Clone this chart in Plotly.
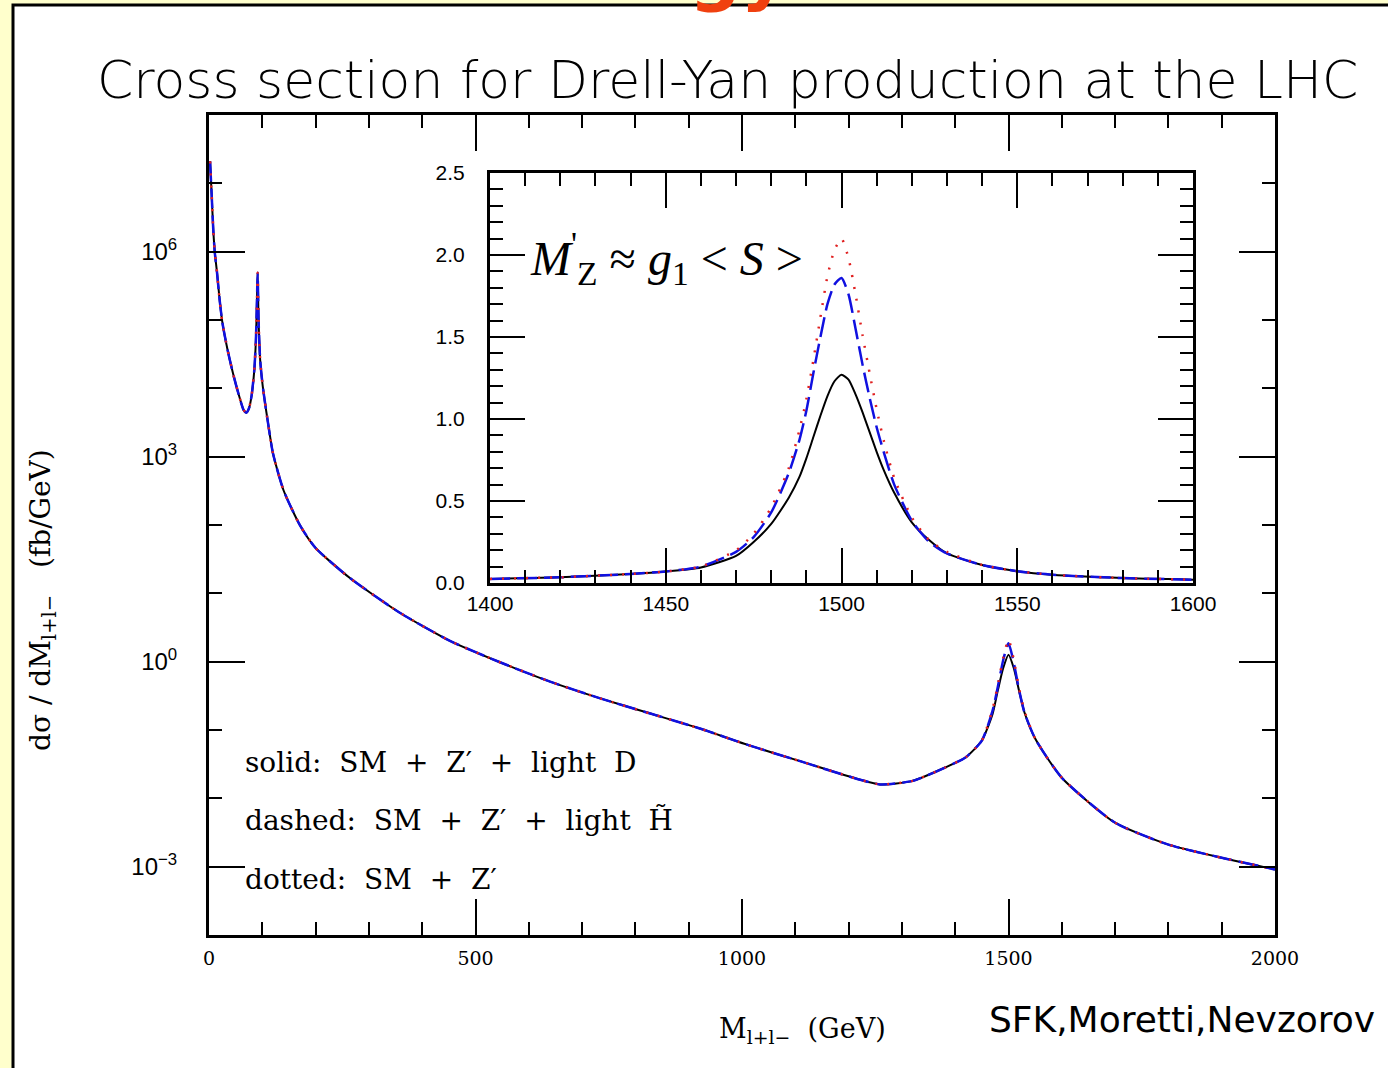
import plotly.graph_objects as go

# ---------------- data ----------------
main_mass = [2, 5, 8, 11, 15, 20, 25, 35, 45, 55, 65, 70, 75, 80, 85, 88, 90, 91.2, 93, 96,
             101, 110, 120, 140, 171, 200, 265, 358, 453, 546, 640, 734, 828, 921, 1015,
             1109, 1200, 1259, 1320, 1380, 1420, 1450, 1470, 1480, 1490, 1500, 1510, 1520,
             1530, 1550, 1600, 1700, 1800, 1900, 2000]
main_solid = [2.1e7, 6.8e6, 2.1e6, 9.5e5, 5.0e5, 1.95e5, 9.3e4, 3.6e4, 1.66e4, 8.5e3, 4.8e3,
              4.4e3, 5.1e3, 7.9e3, 1.86e4, 5.1e4, 1.95e5, 4.9e5, 1.0e5, 2.6e4,
              1.05e4, 3.4e3, 1.12e3, 3.2e2, 98, 46, 16.6, 5.2, 2.0, 0.98, 0.51, 0.29, 0.174,
              0.105, 0.059, 0.035, 0.021, 0.016, 0.018, 0.028, 0.040, 0.070, 0.17, 0.38,
              0.80, 1.26, 0.80, 0.37, 0.18, 0.075, 0.020, 4.4e-3, 2.1e-3, 1.35e-3, 9.1e-4]
main_dashed = [2.1e7, 6.8e6, 2.1e6, 9.5e5, 5.0e5, 1.95e5, 9.3e4, 3.6e4, 1.66e4, 8.5e3, 4.8e3,
               4.4e3, 5.1e3, 7.9e3, 1.86e4, 5.1e4, 1.95e5, 4.9e5, 1.0e5, 2.6e4,
               1.05e4, 3.4e3, 1.12e3, 3.2e2, 98, 46, 16.6, 5.2, 2.0, 0.98, 0.51, 0.29, 0.174,
               0.105, 0.059, 0.035, 0.021, 0.016, 0.018, 0.028, 0.040, 0.070, 0.19, 0.43,
               1.05, 1.86, 0.95, 0.38, 0.18, 0.075, 0.020, 4.4e-3, 2.1e-3, 1.35e-3, 9.1e-4]
main_dotted = [2.1e7, 6.8e6, 2.1e6, 9.5e5, 5.0e5, 1.95e5, 9.3e4, 3.6e4, 1.66e4, 8.5e3, 4.8e3,
               4.4e3, 5.1e3, 7.9e3, 1.86e4, 5.1e4, 1.95e5, 4.9e5, 1.0e5, 2.6e4,
               1.05e4, 3.4e3, 1.12e3, 3.2e2, 98, 46, 16.6, 5.2, 2.0, 0.98, 0.51, 0.29, 0.174,
               0.105, 0.059, 0.035, 0.021, 0.016, 0.018, 0.028, 0.040, 0.070, 0.20, 0.46,
               1.12, 2.10, 1.06, 0.40, 0.19, 0.075, 0.020, 4.4e-3, 2.1e-3, 1.35e-3, 9.1e-4]

inset_mass = [1400, 1420, 1440, 1450, 1460, 1470, 1475, 1480, 1485, 1488, 1490, 1492, 1494,
              1496, 1498, 1500, 1502, 1504, 1506, 1508, 1510, 1512, 1515, 1520, 1525, 1530,
              1540, 1550, 1560, 1580, 1600]
inset_solid = [0.025, 0.035, 0.055, 0.07, 0.095, 0.165, 0.25, 0.36, 0.52, 0.645, 0.76, 0.89,
               1.02, 1.14, 1.23, 1.27, 1.24, 1.15, 1.04, 0.92, 0.80, 0.69, 0.55, 0.37, 0.26,
               0.18, 0.11, 0.072, 0.05, 0.03, 0.02]
inset_dashed = [0.025, 0.035, 0.055, 0.07, 0.10, 0.19, 0.28, 0.43, 0.67, 0.87, 1.05, 1.28,
                1.50, 1.70, 1.82, 1.86, 1.76, 1.55, 1.33, 1.13, 0.95, 0.80, 0.60, 0.38, 0.25,
                0.18, 0.11, 0.072, 0.05, 0.03, 0.02]
inset_dotted = [0.025, 0.035, 0.055, 0.07, 0.10, 0.20, 0.30, 0.46, 0.70, 0.93, 1.12, 1.36,
                1.62, 1.87, 2.03, 2.10, 1.98, 1.76, 1.51, 1.28, 1.06, 0.87, 0.64, 0.40, 0.26,
                0.19, 0.11, 0.072, 0.05, 0.03, 0.02]

main_x_ticks = [0, 500, 1000, 1500, 2000]
main_x_minor = [v for v in range(100, 2000, 100) if v % 500 != 0]
main_y_ticks = [1e-3, 1, 1e3, 1e6]
main_y_ticktext = ["10<sup>\u22123</sup>", "10<sup>0</sup>", "10<sup>3</sup>", "10<sup>6</sup>"]
main_y_minor = [1e-4, 1e-2, 1e-1, 1e1, 1e2, 1e4, 1e5, 1e7, 1e8]
inset_x_ticks = [1400, 1450, 1500, 1550, 1600]
inset_y_ticks = [0.0, 0.5, 1.0, 1.5, 2.0, 2.5]
inset_y_ticktext = ["0.0", "0.5", "1.0", "1.5", "2.0", "2.5"]

# ---------------- layout geometry (pixels) ----------------
W, H = 1388, 1068
L, R, T, B = 209, 1275, 115, 935
PW, PH = R - L, B - T


def px(x):
    return (x - L) / PW


def py(y):
    return (B - y) / PH


fig = go.Figure()

for x, y, xa, ya in [(main_mass, (main_solid, main_dashed, main_dotted), "x", "y"),
                     (inset_mass, (inset_solid, inset_dashed, inset_dotted), "x2", "y2")]:
    fig.add_trace(go.Scatter(x=x, y=y[0], mode="lines", xaxis=xa, yaxis=ya,
                             line=dict(color="black", width=2, shape="spline", smoothing=0.6),
                             showlegend=False))
    fig.add_trace(go.Scatter(x=x, y=y[1], mode="lines", xaxis=xa, yaxis=ya,
                             line=dict(color="#1010E0", width=2.5, dash="20px,7px",
                                       shape="spline", smoothing=0.6),
                             showlegend=False))
    fig.add_trace(go.Scatter(x=x, y=y[2], mode="lines", xaxis=xa, yaxis=ya,
                             line=dict(color="#E02020", width=2.5, dash="2px,10px",
                                       shape="spline", smoothing=0.6),
                             showlegend=False))

tickfont_sans = dict(family="Liberation Sans", size=21, color="black")
tickfont_serif = dict(family="DejaVu Serif", size=19, color="black")

fig.update_layout(
    width=W, height=H,
    margin=dict(l=L, r=W - R, t=T, b=H - B, pad=0),
    paper_bgcolor="#FFFFCC",
    plot_bgcolor="white",
    showlegend=False,
    xaxis=dict(range=[0, 2000], showline=True, linecolor="black", linewidth=3,
               mirror="ticks", ticks="inside", ticklen=36, tickwidth=2, tickcolor="black",
               tickmode="array", tickvals=main_x_ticks,
               ticktext=[str(v) for v in main_x_ticks], tickfont=tickfont_serif,
               ticklabelstandoff=4,
               showgrid=False, zeroline=False,
               minor=dict(tickmode="array", tickvals=main_x_minor, ticks="inside",
                          ticklen=13, tickwidth=2, tickcolor="black", showgrid=False)),
    yaxis=dict(type="log", range=[-4, 8], showline=True, linecolor="black", linewidth=3,
               mirror="ticks", ticks="inside", ticklen=36, tickwidth=2, tickcolor="black",
               tickmode="array", tickvals=main_y_ticks, ticktext=main_y_ticktext,
               tickfont=dict(family="Liberation Sans", size=24, color="black"),
               ticklabelstandoff=24,
               showgrid=False, zeroline=False,
               minor=dict(tickmode="array", tickvals=main_y_minor, ticks="inside",
                          ticklen=13, tickwidth=2, tickcolor="black", showgrid=False)),
    xaxis2=dict(domain=[px(490), px(1193)], anchor="y2", range=[1400, 1600],
                showline=True, linecolor="black", linewidth=3, mirror="ticks",
                ticks="inside", ticklen=35, tickwidth=2, tickcolor="black",
                tickmode="array", tickvals=inset_x_ticks,
                ticktext=[str(v) for v in inset_x_ticks], tickfont=tickfont_sans,
                showgrid=False, zeroline=False,
                minor=dict(dtick=10, tick0=1400, ticks="inside", ticklen=13, tickwidth=2,
                           tickcolor="black", showgrid=False)),
    yaxis2=dict(domain=[py(583), py(173)], anchor="x2", range=[0, 2.5],
                showline=True, linecolor="black", linewidth=3, mirror="ticks",
                ticks="inside", ticklen=35, tickwidth=2, tickcolor="black",
                tickmode="array", tickvals=inset_y_ticks, ticktext=inset_y_ticktext,
                tickfont=tickfont_sans, ticklabelstandoff=18,
                showgrid=False, zeroline=False,
                minor=dict(dtick=0.1, tick0=0, ticks="inside", ticklen=13, tickwidth=2,
                           tickcolor="black", showgrid=False)),
)

shapes = [
    dict(type="rect", xref="paper", yref="paper", x0=px(13), x1=px(W + 20), y0=py(H + 20),
         y1=py(5), fillcolor="white", line=dict(color="black", width=3), layer="below"),
]
fig.update_layout(shapes=shapes)

ann = []
# red slide heading (mostly cut off at the top, as in the reference)
ann.append(dict(text="<b>Phenomenology</b>", xref="paper", yref="paper", x=px(790), y=py(16),
                xanchor="right", yanchor="bottom", showarrow=False,
                font=dict(family="DejaVu Sans", size=72, color="#F0400F")))
ann.append(dict(text="Cross section for Drell-Yan production at the LHC", xref="paper",
                yref="paper", x=px(727), y=py(80), xanchor="center", yanchor="middle",
                showarrow=False,
                font=dict(family="DejaVu Sans", size=52, color="black", weight=300)))
ann.append(dict(text="d\u03c3 / dM<sub>l+l\u2212</sub>   (fb/GeV)", xref="paper", yref="paper",
                x=px(42), y=py(600), xanchor="center", yanchor="middle", textangle=-90,
                showarrow=False, font=dict(family="DejaVu Serif", size=28, color="black")))
ann.append(dict(text="M<sub>l+l\u2212</sub>  (GeV)", xref="paper", yref="paper",
                x=px(802), y=py(1030), xanchor="center", yanchor="middle",
                showarrow=False, font=dict(family="DejaVu Serif", size=27, color="black")))
ann.append(dict(text="SFK,Moretti,Nevzorov", xref="paper", yref="paper",
                x=px(1182), y=py(1019), xanchor="center", yanchor="middle",
                showarrow=False, font=dict(family="DejaVu Sans", size=36, color="black")))
legend_lines = ["solid:  SM  +  Z\u2032  +  light  D",
                "dashed:  SM  +  Z\u2032  +  light  H\u0303",
                "dotted:  SM  +  Z\u2032"]
for txt, yy in zip(legend_lines, [762, 820, 879]):
    ann.append(dict(text=txt, xref="paper", yref="paper", x=px(243), y=py(yy),
                    xanchor="left", yanchor="middle", showarrow=False,
                    font=dict(family="DejaVu Serif", size=28, color="black")))
ann.append(dict(text="<i>M</i><sup>'</sup><sub>Z</sub> \u2248 <i>g</i><sub>1</sub> &lt; <i>S</i> &gt;",
                xref="paper", yref="paper", x=px(666), y=py(258), xanchor="center",
                yanchor="middle", showarrow=False, bgcolor="white",
                font=dict(family="Liberation Serif", size=48, color="black")))
fig.update_layout(annotations=ann)

fig.write_html("out.html")
